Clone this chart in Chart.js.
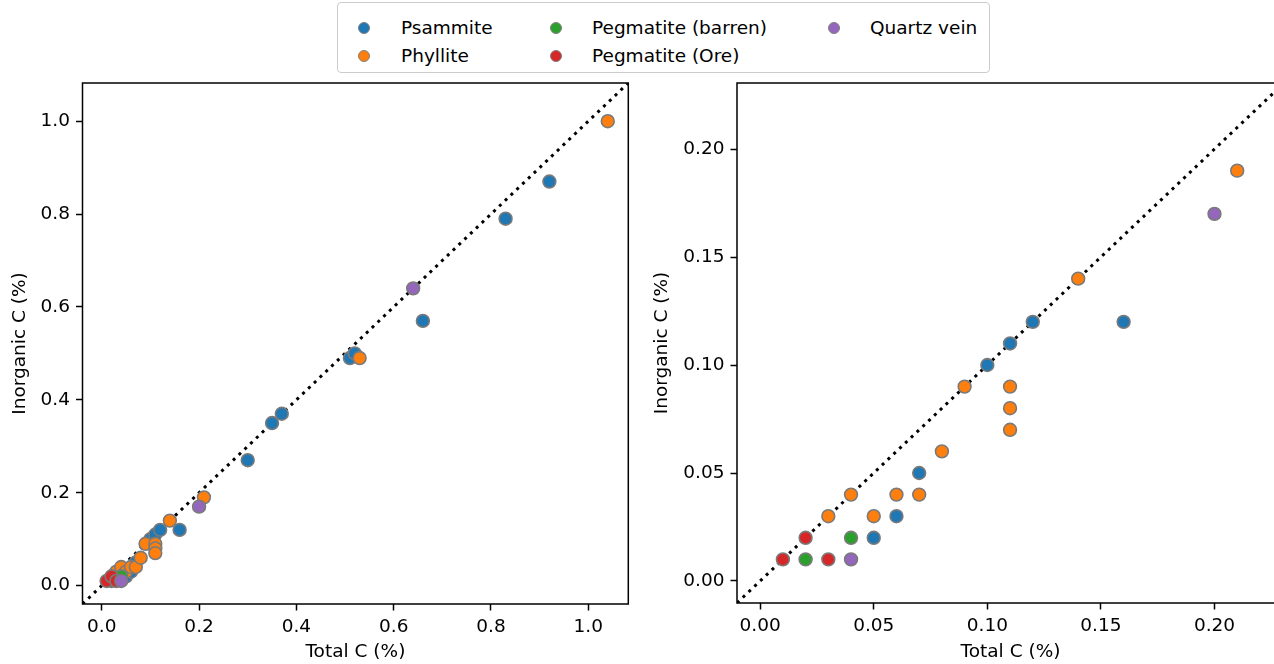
<!DOCTYPE html>
<html>
<head>
<meta charset="utf-8">
<script src="https://cdn.jsdelivr.net/npm/chart.js@4/dist/chart.umd.min.js"></script>
<style>
  html, body { margin: 0; padding: 0; background: #fff; overflow: hidden; }
  body { width: 1274px; height: 664px; position: relative; font-family: 'DejaVu Sans', sans-serif; }
  #leftChart { position: absolute; left: 0; top: 0; }
  #rightChart { position: absolute; left: 640px; top: 0; }
  .legend {
    position: absolute; left: 337px; top: 2px; width: 651px; height: 69px;
    border: 1px solid #cccccc; border-radius: 4px; background: #fff;
  }
  .legend .item { position: absolute; font-size: 18.5px; color: #000; white-space: nowrap; line-height: 20px; }
  .legend .dot {
    position: absolute; width: 10px; height: 10px; border-radius: 50%;
    border: 1.5px solid #808080;
  }
</style>
</head>
<body>
<canvas id="leftChart" width="640" height="664"></canvas>
<canvas id="rightChart" width="660" height="664"></canvas>
<div class="legend" id="legend"></div>
<script>
// séries : Total C (%) et Inorganic C (%)
const seriesNames = ['Psammite', 'Phyllite', 'Pegmatite (barren)', 'Pegmatite (Ore)', 'Quartz vein'];
const seriesColors = ['#1f77b4', '#ff7f0e', '#2ca02c', '#d62728', '#9467bd'];

const psammiteTotal = [0.05, 0.06, 0.07, 0.10, 0.11, 0.12, 0.16, 0.30, 0.35, 0.37, 0.51, 0.52, 0.66, 0.83, 0.92];
const psammiteInorg = [0.02, 0.03, 0.05, 0.10, 0.11, 0.12, 0.12, 0.27, 0.35, 0.37, 0.49, 0.50, 0.57, 0.79, 0.87];
const phylliteTotal = [0.03, 0.04, 0.05, 0.06, 0.07, 0.08, 0.09, 0.11, 0.11, 0.11, 0.14, 0.21, 0.53, 1.04];
const phylliteInorg = [0.03, 0.04, 0.03, 0.04, 0.04, 0.06, 0.09, 0.09, 0.08, 0.07, 0.14, 0.19, 0.49, 1.00];
const barrenTotal = [0.02, 0.04];
const barrenInorg = [0.01, 0.02];
const oreTotal = [0.01, 0.02, 0.03];
const oreInorg = [0.01, 0.02, 0.01];
const quartzTotal = [0.04, 0.20, 0.64];
const quartzInorg = [0.01, 0.17, 0.64];

const allTotal = [psammiteTotal, phylliteTotal, barrenTotal, oreTotal, quartzTotal];
const allInorg = [psammiteInorg, phylliteInorg, barrenInorg, oreInorg, quartzInorg];

// limites des axes et graduations
const leftLimits = [-0.0396, 1.0822];
const rightLimits = [-0.0102, 0.2306];
const leftTicks = [0, 0.2, 0.4, 0.6, 0.8, 1.0];
const rightTicks = [0, 0.05, 0.10, 0.15, 0.20];

const FONT = { family: "'DejaVu Sans', sans-serif", size: 18.5 };

const framePlugin = {
    id: 'frame',
    afterDraw(chart) {
        const { ctx, chartArea: a } = chart;
        ctx.save();
        ctx.strokeStyle = '#000';
        ctx.lineWidth = 1.5;
        ctx.strokeRect(a.left, a.top, a.right - a.left, a.bottom - a.top);
        ctx.restore();
    }
};

function buildDatasets(limits) {
    const sets = seriesNames.map((name, i) => ({
        type: 'scatter',
        label: name,
        data: allTotal[i].map((x, j) => ({ x: x, y: allInorg[i][j] })),
        backgroundColor: seriesColors[i],
        borderColor: '#7a7a7a',
        pointBorderWidth: 1.6,
        pointRadius: 6.4,
        pointHoverRadius: 6.4,
        order: seriesNames.length - i
    }));
    // droite 1:1
    sets.push({
        type: 'line',
        label: '1:1',
        data: limits.map(v => ({ x: v, y: v })),
        borderColor: '#000',
        borderWidth: 3,
        borderDash: [3, 5],
        pointRadius: 0,
        fill: false,
        order: 10
    });
    return sets;
}

function axis(limits, ticks, digits, title, titlePad, fitSize, isX) {
    return {
        type: 'linear',
        min: limits[0],
        max: limits[1],
        afterBuildTicks: s => { s.ticks = ticks.map(v => ({ value: v })); },
        afterFit: s => { if (isX) s.height = fitSize; else s.width = fitSize; },
        ticks: {
            callback: v => Number(v).toFixed(digits),
            font: FONT, color: '#000', padding: 6, autoSkip: false, maxRotation: 0
        },
        grid: {
            drawOnChartArea: false, drawTicks: true, tickLength: 6.5,
            tickColor: '#000', tickWidth: 1.5
        },
        border: { display: false },
        title: { display: true, text: title, font: FONT, color: '#000', padding: titlePad }
    };
}

function makeChart(id, limits, ticks, digits, yWidth, xHeight, rightPad, yTitlePad) {
    return new Chart(document.getElementById(id).getContext('2d'), {
        data: { datasets: buildDatasets(limits) },
        options: {
            responsive: false,
            animation: false,
            devicePixelRatio: 1,
            layout: { padding: { top: 83, right: rightPad, left: 0, bottom: 0 } },
            plugins: { legend: { display: false }, tooltip: { enabled: false } },
            scales: {
                x: axis(limits, ticks, digits, 'Total C (%)', { top: 0, bottom: 1 }, xHeight, true),
                y: axis(limits, ticks, digits, 'Inorganic C (%)', { top: yTitlePad, bottom: 0 }, yWidth, false)
            }
        },
        plugins: [framePlugin]
    });
}

makeChart('leftChart', leftLimits, leftTicks, 1, 82.5, 60, 11.7, 9);
makeChart('rightChart', rightLimits, rightTicks, 2, 97, 61, 16, 11);

// légende commune
const legend = document.getElementById('legend');
const colX = [[26, 63], [218, 254], [496, 532]];
const rowY = [25, 53];
seriesNames.forEach((name, i) => {
    const col = Math.floor(i / 2), row = i % 2;
    const dot = document.createElement('div');
    dot.className = 'dot';
    dot.style.background = seriesColors[i];
    dot.style.left = (colX[col][0] - 6.5) + 'px';
    dot.style.top = (rowY[row] - 6.5) + 'px';
    legend.appendChild(dot);
    const txt = document.createElement('div');
    txt.className = 'item';
    txt.textContent = name;
    txt.style.left = colX[col][1] + 'px';
    txt.style.top = (rowY[row] - 10) + 'px';
    legend.appendChild(txt);
});
</script>
</body>
</html>
